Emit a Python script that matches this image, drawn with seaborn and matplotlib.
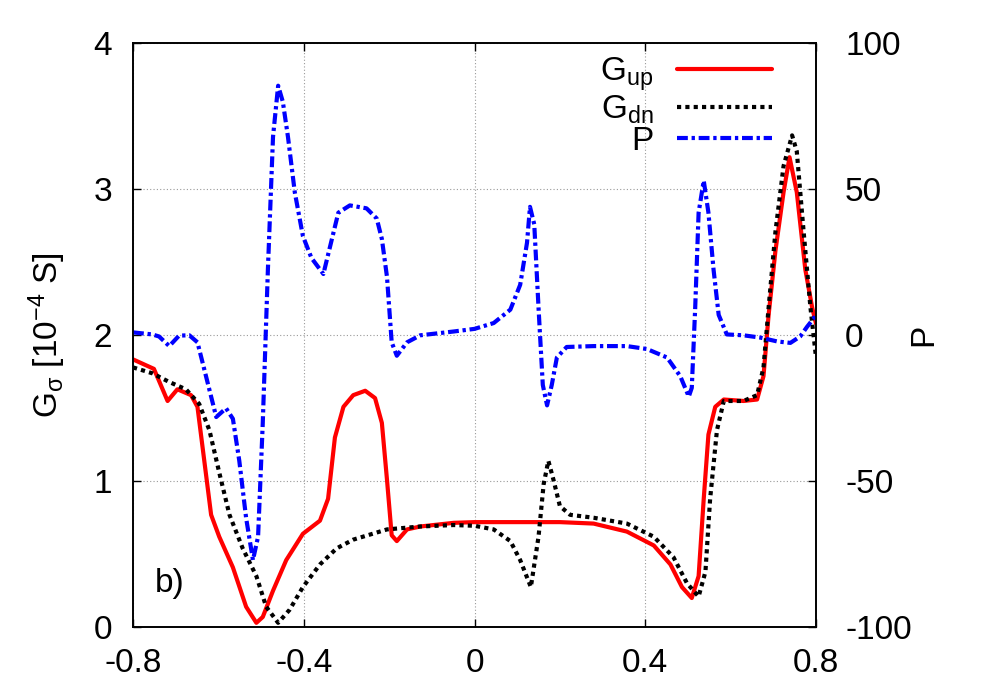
import matplotlib

matplotlib.use("Agg")

import matplotlib.pyplot as plt
import seaborn as sns

# spin-up conductance G_up (10^-4 S)
x_up = [-0.800, -0.751, -0.719, -0.696, -0.664, -0.649, -0.633, -0.617, -0.598, -0.566,
        -0.535, -0.511, -0.496, -0.472, -0.441, -0.402, -0.362, -0.343, -0.327, -0.307,
        -0.284, -0.256, -0.233, -0.217, -0.205, -0.194, -0.182, -0.158, -0.127, -0.049,
        0.000, 0.200, 0.279, 0.357, 0.420, 0.459, 0.486, 0.509, 0.525, 0.537,
        0.548, 0.564, 0.584, 0.630, 0.662, 0.677, 0.689, 0.705, 0.724, 0.738,
        0.755, 0.775, 0.791, 0.800]
g_up = [1.835, 1.77, 1.55, 1.63, 1.59, 1.51, 1.14, 0.77, 0.62, 0.41,
        0.14, 0.03, 0.07, 0.25, 0.46, 0.64, 0.73, 0.88, 1.30, 1.51,
        1.59, 1.62, 1.57, 1.40, 1.01, 0.63, 0.59, 0.67, 0.69, 0.715,
        0.72, 0.72, 0.71, 0.655, 0.56, 0.43, 0.275, 0.20, 0.35, 0.88,
        1.32, 1.51, 1.56, 1.55, 1.56, 1.72, 2.14, 2.58, 2.98, 3.22,
        2.98, 2.45, 2.19, 2.08]

# spin-down conductance G_dn (10^-4 S)
x_dn = [-0.800, -0.755, -0.715, -0.676, -0.645, -0.621, -0.598, -0.574, -0.543, -0.511,
        -0.488, -0.460, -0.433, -0.402, -0.362, -0.323, -0.284, -0.205, -0.127, -0.049,
        0.000, 0.045, 0.084, 0.107, 0.132, 0.150, 0.162, 0.173, 0.185, 0.200,
        0.224, 0.279, 0.357, 0.420, 0.466, 0.498, 0.525, 0.541, 0.552, 0.568,
        0.584, 0.630, 0.662, 0.677, 0.689, 0.705, 0.724, 0.744, 0.755, 0.771,
        0.787, 0.800]
g_dn = [1.78, 1.74, 1.68, 1.63, 1.53, 1.35, 1.06, 0.77, 0.54, 0.35,
        0.14, 0.03, 0.12, 0.275, 0.43, 0.54, 0.60, 0.67, 0.69, 0.70,
        0.695, 0.67, 0.59, 0.46, 0.275, 0.62, 0.98, 1.14, 1.01, 0.83,
        0.77, 0.75, 0.71, 0.62, 0.48, 0.30, 0.21, 0.38, 0.88, 1.35,
        1.55, 1.55, 1.59, 1.78, 2.19, 2.71, 3.16, 3.37, 3.26, 2.71,
        2.19, 1.85]

# polarisation P (%)
x_p = [-0.800, -0.755, -0.739, -0.715, -0.692, -0.668, -0.649, -0.629, -0.605, -0.582,
       -0.566, -0.551, -0.535, -0.519, -0.507, -0.496, -0.484, -0.472, -0.460, -0.449,
       -0.437, -0.421, -0.402, -0.382, -0.354, -0.339, -0.319, -0.292, -0.253, -0.229,
       -0.217, -0.205, -0.194, -0.182, -0.158, -0.127, -0.049, 0.000, 0.045, 0.084,
       0.107, 0.123, 0.130, 0.140, 0.150, 0.160, 0.170, 0.181, 0.193, 0.216,
       0.279, 0.357, 0.404, 0.451, 0.482, 0.502, 0.509, 0.517, 0.525, 0.537,
       0.548, 0.560, 0.572, 0.591, 0.630, 0.670, 0.709, 0.740, 0.763, 0.779,
       0.800]
p_pol = [1.0, 0.3, -0.4, -3.7, -0.1, 0.0, -2.4, -14.0, -28.0, -25.0,
         -28.6, -43.0, -62.6, -77.0, -69.0, -30.0, 22.5, 68.0, 85.5, 80.0,
         68.0, 49.0, 34.0, 26.5, 21.0, 30.0, 42.0, 44.5, 43.5, 40.0,
         33.0, 20.0, -2.4, -7.0, -2.4, 0.0, 1.3, 2.2, 4.2, 8.8,
         17.3, 31.7, 44.0, 38.0, 9.4, -17.0, -24.0, -17.0, -7.6, -4.0,
         -3.7, -3.7, -4.7, -7.6, -14.0, -21.0, -18.0, 9.4, 42.0, 53.0,
         42.0, 22.5, 7.0, 0.3, 0.0, -0.8, -2.1, -2.6, -0.4, 2.9,
         6.8]

x_ticks = [-0.8, -0.4, 0.0, 0.4, 0.8]
x_tick_labels = ["-0.8", "-0.4", "0", "0.4", "0.8"]
g_ticks = [0, 1, 2, 3, 4]
p_ticks = [-100, -50, 0, 50, 100]

FS = 24

sns.set_style("ticks")
plt.rcParams["font.family"] = ["Liberation Sans", "DejaVu Sans"]
plt.rcParams["mathtext.default"] = "regular"
plt.rcParams["axes.unicode_minus"] = False
for key in ("text.color", "axes.labelcolor", "xtick.color", "ytick.color"):
    plt.rcParams[key] = "black"

fig = plt.figure(figsize=(10, 7), dpi=100)
ax = fig.add_axes([0.133, 0.104, 0.683, 0.834])
ax2 = ax.twinx()

sns.lineplot(x=x_up, y=g_up, ax=ax, color="#ff0000", lw=3, sort=False,
             estimator=None, legend=False)
sns.lineplot(x=x_dn, y=g_dn, ax=ax, color="black", lw=3, sort=False,
             estimator=None, legend=False)
ax.lines[-1].set_linestyle((0, (1, 1)))
sns.lineplot(x=x_p, y=p_pol, ax=ax2, color="#0000ff", lw=3, sort=False,
             estimator=None, legend=False)
ax2.lines[-1].set_linestyle((0, (2.6, 0.9, 0.8, 0.9)))

ax.set_xlim(-0.8, 0.8)
ax.set_ylim(0, 4)
ax2.set_ylim(-100, 100)
ax.set_xticks(x_ticks)
ax.set_xticklabels(x_tick_labels)
ax.set_yticks(g_ticks)
ax2.set_yticks(p_ticks)

ax.grid(True, color="#999999", linestyle=(0, (1, 2)), lw=0.8)
ax.set_axisbelow(True)

ax.tick_params(axis="x", direction="in", length=6, width=1, pad=15, top=True, labelsize=FS)
ax.tick_params(axis="y", direction="in", length=6, width=1, pad=15, labelsize=FS)
ax2.tick_params(axis="y", direction="in", length=6, width=1, pad=21, labelsize=FS)
for lab in ax2.get_yticklabels():
    lab.set_horizontalalignment("left")

for a in (ax, ax2):
    for sp in a.spines.values():
        sp.set_color("black")
        sp.set_linewidth(1.2)

ax.set_xlabel("")
ax.set_ylabel(r"G$_{σ}$ [10$^{-4}$ S]", fontsize=FS)
ax.yaxis.set_label_coords(-0.095, 0.5)
ax2.set_ylabel("P", fontsize=FS)
ax2.yaxis.set_label_coords(1.135, 0.5)

ax.text(0.032, 0.06, "b)", transform=ax.transAxes, ha="left", va="baseline", fontsize=FS)

handles = ax.lines[:2] + ax2.lines[:1]
labels = [r"G$_{up}$", r"G$_{dn}$", "P"]
leg = ax2.legend(handles, labels, loc="upper right", bbox_to_anchor=(0.945, 0.99),
                 frameon=False, markerfirst=False, handlelength=2.85,
                 handletextpad=0.7, labelspacing=0.0, borderpad=0.2,
                 borderaxespad=0.0, fontsize=FS)

fig.savefig("out.png", dpi=100)
